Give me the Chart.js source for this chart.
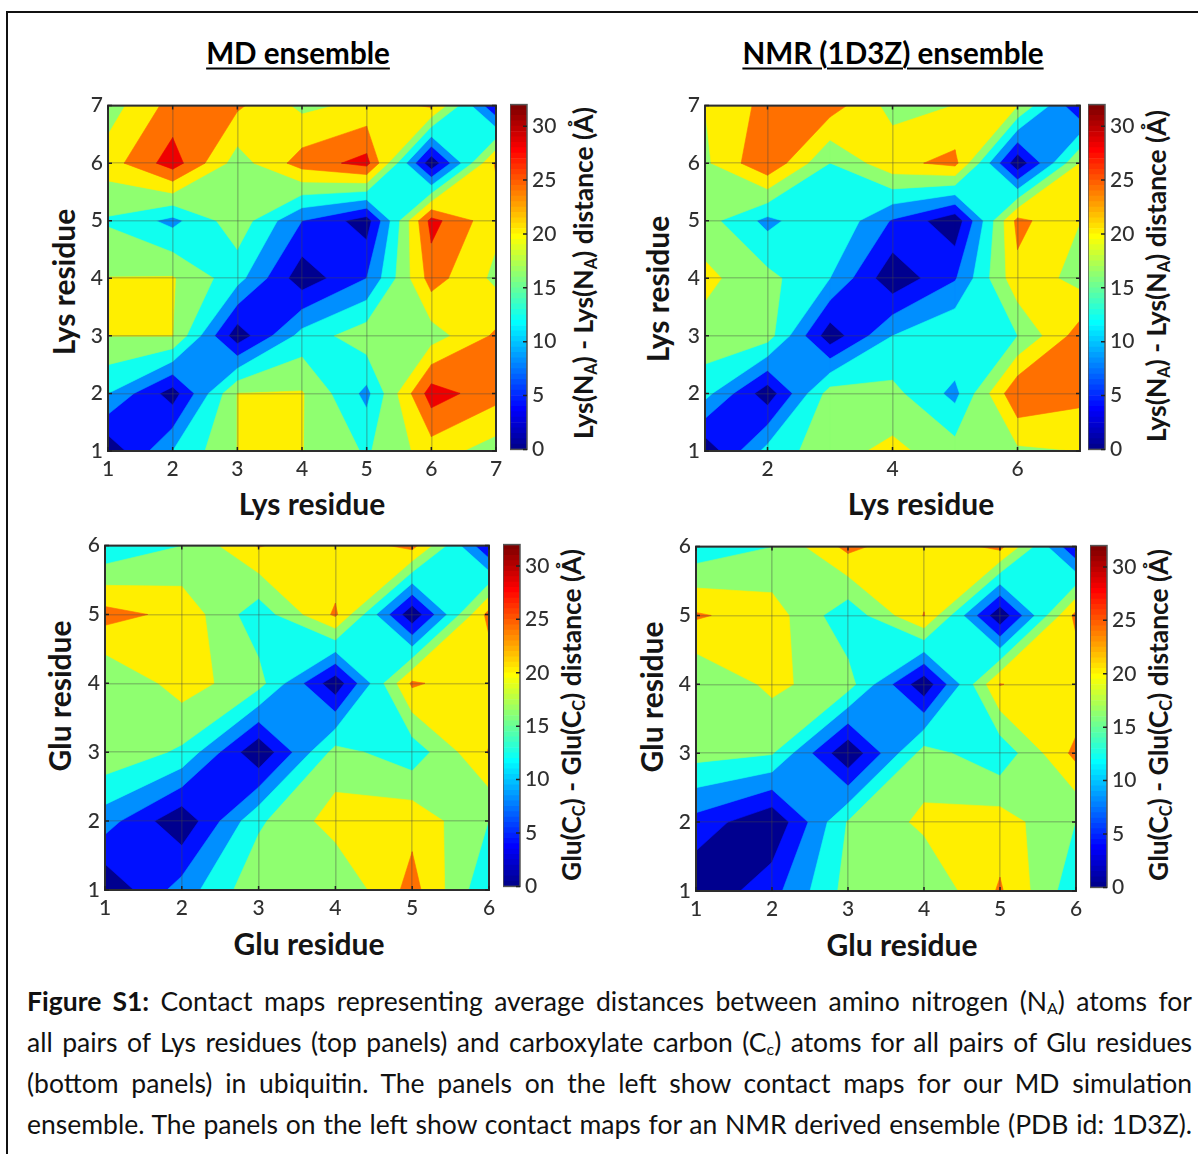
<!DOCTYPE html>
<html>
<head>
<meta charset="utf-8">
<script src="https://cdn.jsdelivr.net/npm/chart.js@4"></script>
<style>
html,body{margin:0;padding:0;background:#fff;width:1198px;height:1154px;overflow:hidden;font-family:Lato,sans-serif;color:#111}
canvas{position:absolute}
#frame{position:absolute;left:6px;top:11px;width:1300px;height:1300px;border-left:2px solid #111;border-top:2px solid #111}
.t{position:absolute;white-space:nowrap;transform:translate(-50%,-50%);font-weight:700}
.r{transform:translate(-50%,-50%) rotate(-90deg)}
.title{font-size:29.6px;text-decoration:underline;text-underline-offset:4px;text-decoration-thickness:2px;color:#000}
.ax{font-size:30px;color:#141414}
.cb{font-size:26.4px;color:#141414}
sub{font-size:.62em;vertical-align:baseline;position:relative;top:.22em;line-height:0}
.cap{position:absolute;left:27px;width:1165px;font-size:26.5px;line-height:41px;height:41px;text-align:justify;text-align-last:justify;color:#111}
.cap sub{font-size:.6em}
</style>
</head>
<body>
<div id="frame"></div>
<div class="t title" style="left:298px;top:52px">MD ensemble</div>
<div class="t title" style="left:893px;top:52px">NMR (1D3Z) ensemble</div>
<div class="t ax" style="left:312px;top:503px">Lys residue</div>
<div class="t ax" style="left:921px;top:503px">Lys residue</div>
<div class="t ax" style="left:309px;top:943px">Glu residue</div>
<div class="t ax" style="left:902px;top:944px">Glu residue</div>
<div class="t ax r" style="left:63px;top:282px">Lys residue</div>
<div class="t ax r" style="left:657px;top:289px">Lys residue</div>
<div class="t ax r" style="left:59px;top:696px">Glu residue</div>
<div class="t ax r" style="left:651px;top:697px">Glu residue</div>
<div class="t cb r" style="left:583px;top:273px">Lys(N<sub>A</sub>) - Lys(N<sub>A</sub>) distance (Å)</div>
<div class="t cb r" style="left:1156px;top:276px">Lys(N<sub>A</sub>) - Lys(N<sub>A</sub>) distance (Å)</div>
<div class="t cb r" style="left:571px;top:715px">Glu(C<sub>C</sub>) - Glu(C<sub>C</sub>) distance (Å)</div>
<div class="t cb r" style="left:1158px;top:715px">Glu(C<sub>C</sub>) - Glu(C<sub>C</sub>) distance (Å)</div>
<div class="cap" style="top:981px"><b>Figure S1:</b> Contact maps representing average distances between amino nitrogen (N<sub>A</sub>) atoms for</div>
<div class="cap" style="top:1022px">all pairs of Lys residues (top panels) and carboxylate carbon (C<sub>c</sub>) atoms for all pairs of Glu residues</div>
<div class="cap" style="top:1063px">(bottom panels) in ubiquitin. The panels on the left show contact maps for our MD simulation</div>
<div class="cap" style="top:1104px">ensemble. The panels on the left show contact maps for an NMR derived ensemble (PDB id: 1D3Z).</div>
<script>
// ---- data (average distance in Å, rows = y residue, columns = x residue) ----
const lysMd = [
  [1.0,12.0,20.0,20.1,15.5,22.0,18.0],
  [12.0,2.0,20.0,20.3,10.8,30.0,25.5],
  [20.0,20.0,1.5,13.5,18.5,18.0,24.7],
  [20.1,20.3,13.5,1.5,8.0,25.8,19.0],
  [15.5,10.8,18.5,8.0,2.0,29.4,21.0],
  [22.0,30.0,18.0,25.8,29.4,1.0,24.75],
  [18.0,25.5,24.7,19.0,21.0,24.75,4.2]
];
const lysNmr = [
  [1.0,13.4,18.5,21.0,17.7,19.2,20.05],
  [13.4,1.5,17.8,17.2,10.8,27.5,25.3],
  [18.5,17.8,1.5,12.0,15.95,15.95,26.0],
  [21.0,17.2,12.0,1.0,7.6,22.8,18.5],
  [17.7,10.8,15.95,7.6,1.1,25.2,20.05],
  [19.2,27.5,15.95,22.8,25.2,1.0,20.1],
  [20.05,25.3,26.0,18.5,20.05,20.1,4.1]
];
const gluMd = [
  [0.5,9.8,19.0,15.95,25.5,12.5],
  [9.8,0.8,15.3,21.8,22.8,15.95],
  [19.0,15.3,0.5,17.5,13.5,24.3],
  [15.95,21.8,17.5,1.2,24.7,20.5],
  [25.5,22.8,13.5,24.7,0.8,25.5],
  [12.5,15.95,24.3,20.5,25.5,4.1]
];
const gluNmr = [
  [0.5,6.5,17.5,16.3,24.5,13.2],
  [6.5,0.5,16.3,20.9,22.0,15.95],
  [17.5,16.3,0.5,17.7,13.1,25.2],
  [16.3,20.9,17.7,1.0,24.2,20.4],
  [24.5,22.0,13.1,24.2,0.8,25.3],
  [13.2,15.95,25.2,20.4,25.3,4.1]
];
const contourLevels = [0,4,8,12,16,20,24,28];
const lysTicksAll = [1,2,3,4,5,6,7];
const lysTicksSparse = [2,4,6];
const gluTicks = [1,2,3,4,5,6];
const colorbarTicks = [0,5,10,15,20,25,30];
const colorbarMax = 32;
const jetSteps = 64;

function jet(i){ // MATLAB jet(64), 0-based index
  const f = (i+1)/jetSteps*4, c = v => Math.round(255*Math.max(0,Math.min(1,v)));
  return [c(Math.min(f-1.5,-f+4.5)), c(Math.min(f-0.5,-f+3.5)), c(Math.min(f+0.5,-f+2.5))];
}
function levelColor(level){
  const [r,g,b] = jet(Math.round(level/colorbarMax*jetSteps));
  return `rgb(${r},${g},${b})`;
}
function cross(A,B,L){
  const t = (L-A.v)/(B.v-A.v);
  return {x:A.x+t*(B.x-A.x),y:A.y+t*(B.y-A.y)};
}
// Region of a grid cell with value >= L; saddles are resolved by the cell's mean value.
function cellPolys(q,L){
  const hi = q.map(c=>c.v>=L);
  const saddle = hi[0]===hi[2] && hi[1]===hi[3] && hi[0]!==hi[1];
  const mean = (q[0].v+q[1].v+q[2].v+q[3].v)/4;
  if(saddle && mean<L){
    const out=[];
    for(let k=0;k<4;k++) if(hi[k]){
      const prev=q[(k+3)%4], next=q[(k+1)%4];
      out.push([cross(prev,q[k],L),q[k],cross(q[k],next,L)]);
    }
    return out;
  }
  const poly=[];
  q.forEach((A,k)=>{
    const B=q[(k+1)%4];
    if(hi[k]) poly.push(A);
    if(hi[k]!==hi[(k+1)%4]) poly.push(cross(A,B,L));
  });
  return poly.length?[poly]:[];
}

// Filled contours, drawn through the chart's own scales before its grid.
const contourPlugin = {
  id:'contourFill',
  beforeDraw(chart){
    const m = chart.config.options.plugins.contourFill && chart.config.options.plugins.contourFill.matrix;
    if(!m) return;
    const {ctx,chartArea:a,scales:{x,y}} = chart;
    ctx.save();
    ctx.beginPath(); ctx.rect(a.left,a.top,a.width,a.height); ctx.clip();
    contourLevels.forEach(L=>{
      const col = levelColor(L);
      ctx.beginPath();
      for(let j=0;j<m.length-1;j++) for(let i=0;i<m.length-1;i++){
        const q = [[i,j],[i+1,j],[i+1,j+1],[i,j+1]].map(([p,r])=>({x:p+1,y:r+1,v:m[r][p]}));
        cellPolys(q,L).forEach(poly=>{
          poly.forEach((p,k)=>{
            const X = x.getPixelForValue(p.x), Y = y.getPixelForValue(p.y);
            k ? ctx.lineTo(X,Y) : ctx.moveTo(X,Y);
          });
          ctx.closePath();
        });
      }
      ctx.fillStyle = col; ctx.fill();
      ctx.strokeStyle = col; ctx.lineWidth = .6; ctx.lineJoin='round'; ctx.stroke();
    });
    ctx.restore();
  },
  afterDraw(chart){
    const {ctx,chartArea:a,scales} = chart;
    const isBar = chart.config.type==='bar';
    ctx.save();
    ctx.strokeStyle = isBar?'#555':'#2e2e2e'; ctx.lineWidth = isBar?1.5:2;
    ctx.strokeRect(a.left,a.top,a.width,a.height);
    ctx.lineWidth = 1.5; ctx.strokeStyle='#222';
    ctx.beginPath();
    Object.values(scales).forEach(s=>{
      if(!s.options.display) return;
      s.ticks.forEach(t=>{
        const p = s.getPixelForValue(t.value);
        if(s.isHorizontal()){
          ctx.moveTo(p,a.bottom); ctx.lineTo(p,a.bottom-4);
          ctx.moveTo(p,a.top); ctx.lineTo(p,a.top+4);
        } else {
          if(!isBar){ ctx.moveTo(a.left,p); ctx.lineTo(a.left+4,p); }
          ctx.moveTo(a.right,p); ctx.lineTo(a.right-4,p);
        }
      });
    });
    ctx.stroke();
    ctx.restore();
  }
};

function addCanvas(left,top,w,h){
  const c = document.createElement('canvas');
  c.width = w; c.height = h;
  c.style.cssText = `left:${left}px;top:${top}px;width:${w}px;height:${h}px`;
  document.body.appendChild(c);
  return c;
}

const tickFont = {family:'Lato',size:21,weight:'500'};
const tickColor = '#303030';

function panel(matrix,box,xTicks,yTicks){
  const L=42,T=16,R=14,B=32;
  const cv = addCanvas(box.x0-L,box.y0-T,box.x1-box.x0+L+R,box.y1-box.y0+T+B);
  const n = matrix.length, pts=[];
  matrix.forEach((row,j)=>row.forEach((v,i)=>pts.push({x:i+1,y:j+1,v})));
  const axis = (ticks,fit)=>({
    type:'linear',min:1,max:n,
    afterBuildTicks:s=>{s.ticks=ticks.map(value=>({value}));},
    afterFit:fit,
    ticks:{font:tickFont,color:tickColor,padding:fit.pad,autoSkip:false,maxRotation:0,callback:v=>String(v)},
    grid:{color:'rgba(70,70,70,.3)',lineWidth:1.6,drawTicks:false},
    border:{display:false}
  });
  const fx = s=>{s.height=B;}; fx.pad=6;
  const fy = s=>{s.width=L;}; fy.pad=5;
  new Chart(cv,{
    type:'scatter',
    data:{datasets:[{data:pts,pointRadius:0,showLine:false}]},
    options:{
      responsive:false,animation:false,
      layout:{padding:{top:T,right:R,left:0,bottom:0}},
      plugins:{legend:{display:false},tooltip:{enabled:false},contourFill:{matrix}},
      scales:{x:axis(xTicks,fx),y:axis(yTicks,fy)}
    },
    plugins:[contourPlugin]
  });
}

function colorbar(box){
  const T=16,B=14,R=34;
  const cv = addCanvas(box.x0,box.y0-T,box.x1-box.x0+R,box.y1-box.y0+T+B);
  const datasets = [];
  for(let i=0;i<jetSteps;i++){
    const [r,g,b]=jet(i), col=`rgb(${r},${g},${b})`;
    datasets.push({data:[colorbarMax/jetSteps],backgroundColor:col,borderWidth:0,barPercentage:1,categoryPercentage:1});
  }
  new Chart(cv,{
    type:'bar',
    data:{labels:[''],datasets},
    options:{
      responsive:false,animation:false,
      layout:{padding:{top:T,bottom:B,left:0,right:0}},
      plugins:{legend:{display:false},tooltip:{enabled:false}},
      scales:{
        x:{stacked:true,display:false},
        y:{stacked:true,position:'right',min:0,max:colorbarMax,
           afterBuildTicks:s=>{s.ticks=colorbarTicks.map(value=>({value}));},
           afterFit:s=>{s.width=R;},
           ticks:{font:tickFont,color:tickColor,padding:5},
           grid:{display:false,drawTicks:false},border:{display:false}}
      }
    },
    plugins:[contourPlugin]
  });
}

panel(lysMd,{x0:108,x1:496,y0:104,y1:451},lysTicksAll,lysTicksAll);
panel(lysNmr,{x0:705,x1:1080,y0:104,y1:451},lysTicksSparse,lysTicksAll);
panel(gluMd,{x0:105,x1:489,y0:544,y1:890},gluTicks,gluTicks);
panel(gluNmr,{x0:696,x1:1076,y0:545,y1:891},gluTicks,gluTicks);
colorbar({x0:510,x1:527,y0:103,y1:453});
colorbar({x0:1088,x1:1105,y0:103,y1:453});
colorbar({x0:503,x1:520,y0:543,y1:890});
colorbar({x0:1090,x1:1107,y0:544,y1:891});
</script>
</body>
</html>
